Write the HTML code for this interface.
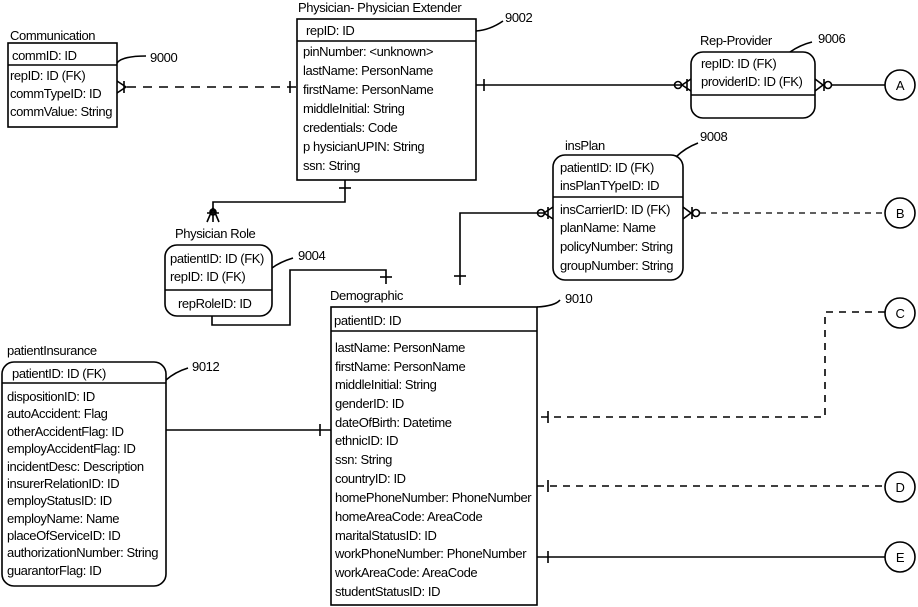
<!DOCTYPE html>
<html><head><meta charset="utf-8"><style>
html,body{margin:0;padding:0;background:#fff;}
svg{display:block;}
text{font-family:"Liberation Sans",sans-serif;font-size:13px;fill:#000;letter-spacing:-0.4px;}
</style></head><body>
<svg width="918" height="607" viewBox="0 0 918 607" xmlns="http://www.w3.org/2000/svg">
<g fill="none" stroke="#000" stroke-width="1.6">
<rect x="8" y="43" width="109" height="84"/>
<line x1="8" y1="65" x2="117" y2="65"/>
<path d="M117 63 Q122 56 146 56"/>
<rect x="297" y="19" width="179" height="161"/>
<line x1="297" y1="41" x2="476" y2="41"/>
<path d="M476 31 Q490 30 503 21"/>
<line x1="127" y1="87" x2="297" y2="87" stroke-dasharray="9,7"/>
<path d="M117 81 L126 87 L117 93 M124 81 L124 93"/>
<line x1="290" y1="81" x2="290" y2="93"/>
<path d="M345 180 V202 H213 V222"/>
<line x1="339" y1="188" x2="351" y2="188"/>
<path d="M207 213 H219 M213 208 L207 222 M213 208 L219 222"/>
<circle cx="213" cy="212" r="3"/>
<rect x="165" y="245" width="107" height="71" rx="12"/>
<line x1="165" y1="290" x2="272" y2="290"/>
<path d="M272 268 Q280 262 293 258"/>
<path d="M212 316 V325 H290 V270 H386 V284"/>
<line x1="380" y1="277" x2="392" y2="277"/>
<rect x="331" y="307" width="206" height="298"/>
<line x1="331" y1="331" x2="537" y2="331"/>
<path d="M537 307 Q555 306 560 300"/>
<path d="M460 285 V213 H545"/>
<line x1="454" y1="276" x2="466" y2="276"/>
<path d="M553 207 L544 213 L553 219 M548 207 V219"/>
<circle cx="541" cy="213" r="3.5"/>
<line x1="476" y1="85" x2="682" y2="85"/>
<line x1="484" y1="79" x2="484" y2="91"/>
<path d="M691 79 L682 85 L691 91 M687 79 V91"/>
<circle cx="678" cy="85" r="3.5"/>
<rect x="691" y="52" width="124" height="66" rx="12"/>
<line x1="691" y1="95" x2="815" y2="95"/>
<path d="M790 52 Q800 45 812 42"/>
<path d="M815 79 L823 85 L815 91 M824 79 V91"/>
<circle cx="828" cy="85" r="3.5"/>
<line x1="832" y1="85" x2="885" y2="85"/>
<circle cx="900" cy="85" r="15"/>
<rect x="553" y="155" width="130" height="125" rx="12"/>
<line x1="553" y1="197" x2="683" y2="197"/>
<path d="M676 157 Q685 148 698 143"/>
<path d="M683 207 L691 213 L683 219 M692 207 V219"/>
<circle cx="696" cy="213" r="3.5"/>
<line x1="700" y1="213" x2="885" y2="213" stroke-dasharray="6,5" stroke-width="1.2"/>
<circle cx="900" cy="213" r="15"/>
<circle cx="900" cy="313" r="15"/>
<path d="M885 312 H825 V417 H537" stroke-dasharray="7,6"/>
<line x1="548" y1="411" x2="548" y2="423"/>
<circle cx="900" cy="487" r="15"/>
<line x1="537" y1="486" x2="885" y2="486" stroke-dasharray="7,6"/>
<line x1="548" y1="480" x2="548" y2="492"/>
<circle cx="900" cy="557" r="15"/>
<line x1="537" y1="557" x2="885" y2="557"/>
<line x1="548" y1="551" x2="548" y2="563"/>
<rect x="2" y="362" width="164" height="224" rx="12"/>
<line x1="2" y1="383" x2="166" y2="383"/>
<path d="M166 380 Q175 372 188 368"/>
<line x1="166" y1="430" x2="331" y2="430"/>
<line x1="320" y1="424" x2="320" y2="436"/>
</g>
<g>
<text x="10" y="40">Communication</text>
<text x="12" y="60">commID: ID</text>
<text x="10" y="80">repID: ID (FK)</text>
<text x="10" y="98">commTypeID: ID</text>
<text x="10" y="116">commValue: String</text>
<text x="150" y="62">9000</text>

<text x="298" y="12">Physician- Physician Extender</text>
<text x="306" y="35">repID: ID</text>
<text x="303" y="56">pinNumber: &lt;unknown&gt;</text>
<text x="303" y="75">lastName: PersonName</text>
<text x="303" y="94">firstName: PersonName</text>
<text x="303" y="113">middleInitial: String</text>
<text x="303" y="132">credentials: Code</text>
<text x="303" y="151">p hysicianUPIN: String</text>
<text x="303" y="170">ssn: String</text>
<text x="505" y="22">9002</text>

<text x="175" y="238">Physician Role</text>
<text x="170" y="263">patientID: ID (FK)</text>
<text x="170" y="281">repID: ID (FK)</text>
<text x="178" y="308">repRoleID: ID</text>
<text x="298" y="260">9004</text>

<text x="700" y="45">Rep-Provider</text>
<text x="701" y="68">repID: ID (FK)</text>
<text x="701" y="86">providerID: ID (FK)</text>
<text x="818" y="43">9006</text>

<text x="565" y="150">insPlan</text>
<text x="560" y="172">patientID: ID (FK)</text>
<text x="560" y="190">insPlanTYpeID: ID</text>
<text x="560" y="214">insCarrierID: ID (FK)</text>
<text x="560" y="232">planName: Name</text>
<text x="560" y="251">policyNumber: String</text>
<text x="560" y="270">groupNumber: String</text>
<text x="700" y="141">9008</text>

<text x="330" y="300">Demographic</text>
<text x="334" y="325">patientID: ID</text>
<text x="335" y="352">lastName: PersonName</text>
<text x="335" y="371">firstName: PersonName</text>
<text x="335" y="389">middleInitial: String</text>
<text x="335" y="408">genderID: ID</text>
<text x="335" y="427">dateOfBirth: Datetime</text>
<text x="335" y="445">ethnicID: ID</text>
<text x="335" y="464">ssn: String</text>
<text x="335" y="483">countryID: ID</text>
<text x="335" y="502">homePhoneNumber: PhoneNumber</text>
<text x="335" y="521">homeAreaCode: AreaCode</text>
<text x="335" y="540">maritalStatusID: ID</text>
<text x="335" y="558">workPhoneNumber: PhoneNumber</text>
<text x="335" y="577">workAreaCode: AreaCode</text>
<text x="335" y="596">studentStatusID: ID</text>
<text x="565" y="303">9010</text>

<text x="7" y="355">patientInsurance</text>
<text x="12" y="378">patientID: ID (FK)</text>
<text x="7" y="401">dispositionID: ID</text>
<text x="7" y="418">autoAccident: Flag</text>
<text x="7" y="436">otherAccidentFlag: ID</text>
<text x="7" y="453">employAccidentFlag: ID</text>
<text x="7" y="471">incidentDesc: Description</text>
<text x="7" y="488">insurerRelationID: ID</text>
<text x="7" y="505">employStatusID: ID</text>
<text x="7" y="523">employName: Name</text>
<text x="7" y="540">placeOfServiceID: ID</text>
<text x="7" y="557">authorizationNumber: String</text>
<text x="7" y="575">guarantorFlag: ID</text>
<text x="192" y="371">9012</text>

<text x="900" y="90" text-anchor="middle">A</text>
<text x="900" y="218" text-anchor="middle">B</text>
<text x="900" y="318" text-anchor="middle">C</text>
<text x="900" y="492" text-anchor="middle">D</text>
<text x="900" y="562" text-anchor="middle">E</text>
</g>
</svg>
</body></html>
